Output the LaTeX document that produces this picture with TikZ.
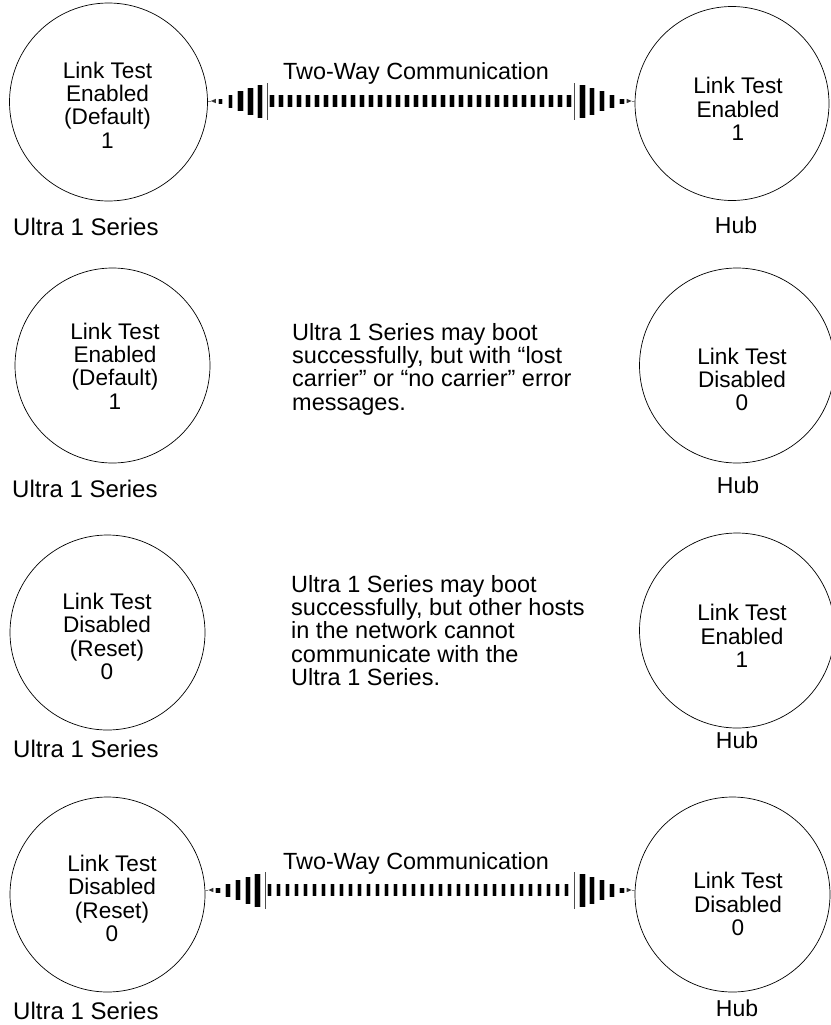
\documentclass[tikz,border=0pt]{standalone}
\usepackage{fontspec}
\setmainfont{Liberation Sans}
\usetikzlibrary{decorations.markings}
\newcommand\twbar[2]{%
  \fill[black] (-#1/2,-#2/2) rectangle (#1/2,#2/2);
  \fill[gray!55] (-#1/2-0.7pt,-#2/2) rectangle (-#1/2,#2/2);
  \fill[gray!55] (#1/2,-#2/2) rectangle (#1/2+0.7pt,#2/2);}
\tikzset{
  circ/.style={draw, circle, line width=0.7pt, inner sep=0pt},
  ctext/.style={align=center, inner sep=0pt, font=\fontsize{22.6}{23.3}\selectfont},
  lab/.style={inner sep=0pt, font=\fontsize{24}{26}\selectfont},
  hublab/.style={inner sep=0pt, font=\fontsize{23}{26}\selectfont},
  para/.style={align=left, inner sep=0pt, font=\fontsize{23.5}{23.3}\selectfont},
  twtext/.style={inner sep=0pt, font=\fontsize{23.4}{26}\selectfont},
  twoway/.style={postaction={decorate}, decoration={markings,
    mark=at position 0pt with {\draw[gray, line width=0.6pt] (0,0) -- (3pt,0); \fill[black!80] (3pt,0) -- (8pt,2.2pt) -- (8pt,-2.2pt) -- cycle;},
    mark=at position 12.5pt with {\twbar{4pt}{5pt}},
    mark=at position 22.5pt with {\twbar{4pt}{13pt}},
    mark=at position 32.5pt with {\twbar{4.5pt}{20pt}},
    mark=at position 42.5pt with {\twbar{4.5pt}{27pt}},
    mark=at position 52pt with {\twbar{5pt}{33pt}},
    mark=at position 60pt with {\draw[gray!60!black, line width=0.8pt] (0,-18.5pt) -- (0,18.5pt);},
    mark=between positions 64pt and -63pt step 9pt with {\twbar{4pt}{12.7pt}},
    mark=at position -60pt with {\draw[gray!60!black, line width=0.8pt] (0,-18.5pt) -- (0,18.5pt);},
    mark=at position -52pt with {\twbar{5pt}{33pt}},
    mark=at position -42.5pt with {\twbar{4.5pt}{27pt}},
    mark=at position -32.5pt with {\twbar{4.5pt}{20pt}},
    mark=at position -22.5pt with {\twbar{4pt}{13pt}},
    mark=at position -12.5pt with {\twbar{4pt}{5pt}},
    mark=at position 1 with {\draw[gray, line width=0.6pt] (0,0) -- (-3pt,0); \fill[black!80] (-3pt,0) -- (-8pt,2.2pt) -- (-8pt,-2.2pt) -- cycle;}
  }}
}
\begin{document}
\begin{tikzpicture}[x=1pt,y=1pt]
\useasboundingbox (0,0) rectangle (830,-1025);
% circles
\node[circ, minimum size=198pt] (u1) at (108.5,-102) {};
\node[circ, minimum size=194pt] (h1) at (732,-103.5) {};
\node[circ, minimum size=195pt] (u2) at (112.5,-365.5) {};
\node[circ, minimum size=195pt] (h2) at (737,-365.5) {};
\node[circ, minimum size=195pt] (u3) at (107.5,-632.5) {};
\node[circ, minimum size=195pt] (h3) at (737,-630.5) {};
\node[circ, minimum size=195pt] (u4) at (107.5,-894.5) {};
\node[circ, minimum size=195pt] (h4) at (732.5,-894.5) {};
% circle texts
\node[ctext] (u1t) at (107.5,-105) {Link Test\\Enabled\\(Default)\\1};
\node[ctext] (h1t) at (738,-109) {Link Test\\Enabled\\1};
\node[ctext] (u2t) at (115,-366) {Link Test\\Enabled\\(Default)\\1};
\node[ctext] (h2t) at (742,-379.5) {Link Test\\Disabled\\0};
\node[ctext] (u3t) at (107,-636.5) {Link Test\\Disabled\\(Reset)\\0};
\node[ctext] (h3t) at (742,-636) {Link Test\\Enabled\\1};
\node[ctext] (u4t) at (112,-898.5) {Link Test\\Disabled\\(Reset)\\0};
\node[ctext] (h4t) at (738,-904) {Link Test\\Disabled\\0};
% labels
\node[lab, anchor=base west] (u1l) at (13,-235) {Ultra 1 Series};
\node[lab, anchor=base west] (u2l) at (12,-497) {Ultra 1 Series};
\node[lab, anchor=base west] (u3l) at (13,-757) {Ultra 1 Series};
\node[lab, anchor=base west] (u4l) at (13,-1019) {Ultra 1 Series};
\node[hublab, anchor=base] (h1l) at (736,-233) {Hub};
\node[hublab, anchor=base] (h2l) at (738,-493) {Hub};
\node[hublab, anchor=base] (h3l) at (737,-748) {Hub};
\node[hublab, anchor=base] (h4l) at (737,-1016) {Hub};
% messages
\node[para, anchor=north west] (m2) at (292,-323) {Ultra 1 Series may boot\\successfully, but with “lost\\carrier” or “no carrier” error\\messages.};
\node[para, anchor=north west] (m3) at (291,-575) {Ultra 1 Series may boot\\successfully, but other hosts\\in the network cannot\\communicate with the\\Ultra 1 Series.};
% two-way communication
\node[twtext, anchor=base] (tw1) at (416,-80) {Two-Way Communication};
\node[twtext, anchor=base] (tw4) at (416,-869) {Two-Way Communication};
\path[twoway] ([yshift=1pt]u1.east) -- ([yshift=2.5pt]h1.west);
\path[twoway] ([yshift=4.5pt]u4.east) -- ([yshift=4.5pt]h4.west);
\end{tikzpicture}
\end{document}
